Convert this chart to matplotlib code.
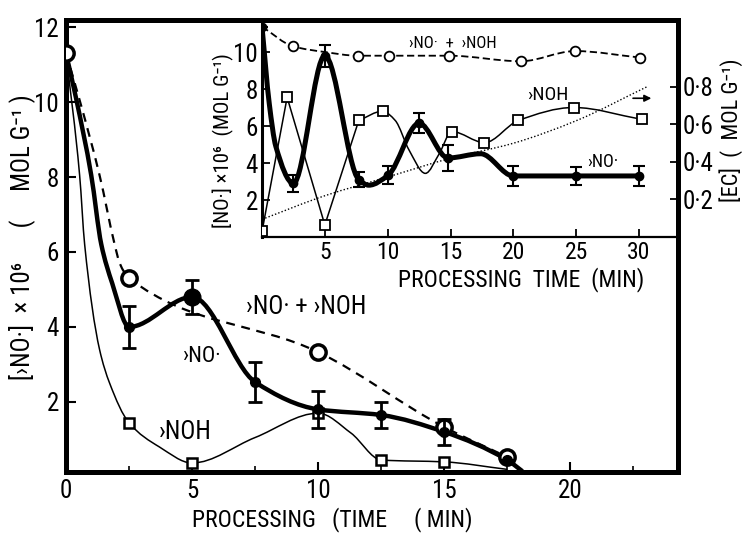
import numpy as np
import matplotlib
matplotlib.use('Agg')
import matplotlib.pyplot as plt
from matplotlib.path import Path
from matplotlib.patches import PathPatch

plt.rcParams['font.family'] = ['Roboto Condensed', 'DejaVu Sans']

# ---- main plot data (time in min, conc x1e6 mol/g) ----
# >NO. + >NOH (open circles, dashed)
sum_t = [0, 0.52, 1.33, 1.93, 2.13, 2.5, 10, 15, 17.5]
sum_v = [11.3, 10.1, 8.05, 6.2, 5.7, 5.3, 3.33, 1.33, 0.53]
sum_mark = [0, 5, 6, 7, 8]

# >NO. (filled circles, thick, error bars)
no_t = [0, 0.4, 1.0, 1.4, 1.83, 2.5, 5, 7.5, 10, 12.5, 15, 17.5, 18.1]
no_v = [11.3, 10.1, 8.05, 6.2, 5.17, 4.0, 4.8, 2.53, 1.8, 1.65, 1.2, 0.45, 0.15]
no_mark = [5, 6, 7, 8, 9, 10, 11]
no_err = [0.55, 0.45, 0.53, 0.5, 0.35, 0.35, 0]

# >NOH (open squares, thin)
noh_t = [0, 0.54, 0.74, 1.33, 1.73, 2.5, 3.7, 5, 7.5, 10, 11.3, 12.5, 15, 17.5]
noh_v = [11.3, 8.05, 6.2, 3.4, 2.5, 1.44, 0.8, 0.37, 1.05, 1.7, 1.17, 0.45, 0.4, 0.2]
noh_mark = [5, 7, 9, 11, 12]

# ---- inset data ----
i_sum_t = [0, 2.5, 5.0, 7.6, 10.1, 14.9, 20.6, 24.9, 30.1]
i_sum_v = [11.37, 10.3, 10.0, 9.8, 9.8, 9.8, 9.5, 10.05, 9.7]
i_sum_mark = [1, 3, 4, 5, 6, 7, 8]

i_no_t = [0, 0.58, 1.1, 2.5, 5.0, 7.7, 8.5, 10.05, 12.5, 14.8, 17.4, 20.0, 25.0, 30.0]
i_no_v = [11.37, 7.2, 4.9, 2.9, 9.8, 3.1, 2.8, 3.35, 6.15, 4.27, 4.5, 3.3, 3.3, 3.3]
i_no_mark = [0, 3, 4, 5, 7, 8, 9, 11, 12, 13]
i_no_err = [0, 0.45, 0.6, 0.4, 0.5, 0.55, 0.7, 0.55, 0.5, 0.55]

# NOH: straight segments first, then smooth
i_noh_t1 = [0, 2.0, 5.0, 7.7]
i_noh_v1 = [0.3, 7.55, 0.65, 6.3]
i_noh_t2 = [7.7, 9.6, 10.6, 11.7, 13.0, 14.1, 15.1, 17.7, 20.4, 24.8, 30.2]
i_noh_v2 = [6.3, 6.8, 6.3, 4.7, 3.44, 4.5, 5.7, 5.1, 6.3, 7.0, 6.36]
i_noh_mark2 = [1, 6, 7, 8, 9, 10]

# [EC] on right axis
ec_t = [0, 5, 10, 15, 20, 25, 30.6]
ec_v = [0.094, 0.22, 0.32, 0.42, 0.5, 0.62, 0.8]


def curve(ax, t, v, **kw):
    # smooth monotone cubic drawn as a bezier path
    t = np.asarray(t, float)
    v = np.asarray(v, float)
    h = np.diff(t)
    d = np.diff(v) / h
    m = np.zeros_like(t)
    m[0] = d[0]
    m[-1] = d[-1]
    for i in range(1, len(t) - 1):
        if d[i-1] * d[i] > 0:
            w1 = 2*h[i] + h[i-1]
            w2 = h[i] + 2*h[i-1]
            m[i] = (w1 + w2) / (w1/d[i-1] + w2/d[i])
    verts = [(t[0], v[0])]
    codes = [Path.MOVETO]
    for i in range(len(t) - 1):
        verts += [(t[i] + h[i]/3, v[i] + m[i]*h[i]/3),
                  (t[i+1] - h[i]/3, v[i+1] - m[i+1]*h[i]/3),
                  (t[i+1], v[i+1])]
        codes += [Path.CURVE4] * 3
    ax.add_patch(PathPatch(Path(verts, codes), fill=False, **kw))


def pick(a, idx):
    return [a[i] for i in idx]


W, H = 742, 534
fig = plt.figure(figsize=(W/100, H/100), dpi=100)


def ftext(x, y, s, **kw):
    fig.text(x/W, 1 - y/H, s, ha='center', va='center', **kw)


ax = fig.add_axes([66/W, 1 - 472/H, (678-66)/W, (472-20)/H])
ax.set_xlim(0, 24.27)
ax.set_ylim(0.13, 12.19)
for s in ax.spines.values():
    s.set_linewidth(3.6)
ax.set_xticks([0, 5, 10, 15, 20])
ax.set_xticks(np.arange(0, 24, 2.5), minor=True)
ax.set_yticks([2, 4, 6, 8, 10, 12])
ax.tick_params(direction='in', length=7, width=1.5, labelsize=18, pad=5)
ax.tick_params(which='minor', direction='in', length=4, width=1.2)

curve(ax, sum_t, sum_v, lw=1.6, ls=(0, (4, 3)), color='k')
curve(ax, noh_t, noh_v, lw=1.1, color='k')
curve(ax, no_t, no_v, lw=3.2, color='k', zorder=3)
ax.plot(pick(sum_t, sum_mark), pick(sum_v, sum_mark), ls='none', marker='o',
        ms=11, mfc='white', mec='k', mew=2.5, zorder=4)
ax.plot(pick(noh_t, noh_mark), pick(noh_v, noh_mark), ls='none', marker='s',
        ms=7, mfc='white', mec='k', mew=1.8, zorder=4)
ax.errorbar(pick(no_t, no_mark), pick(no_v, no_mark), yerr=no_err, fmt='none',
            ecolor='k', elinewidth=2, capsize=5, capthick=2, zorder=5)
ax.plot(pick(no_t, no_mark), pick(no_v, no_mark), ls='none', marker='o',
        ms=7, color='k', zorder=6)
ax.plot([no_t[6]], [no_v[6]], ls='none', marker='o', ms=12, color='k', zorder=6)

ftext(306, 307, '›NO· + ›NOH', fontsize=18)
ftext(202, 356, '›NO·', fontsize=16)
ftext(185, 432, '›NOH', fontsize=18)
ftext(332, 520, 'PROCESSING   (TIME     ( MIN)', fontsize=17)
ftext(22, 237, '[›NO·]  × 10⁶      (     MOL G⁻¹ )', fontsize=18, rotation=90)

# ---- inset ----
ins = fig.add_axes([262/W, 1 - 237/H, (678-262)/W, (237-20)/H])
ins.set_xlim(0, 33.1)
ins.set_ylim(0, 11.73)
ins.spines['left'].set_linewidth(2.2)
ins.spines['bottom'].set_linewidth(1.6)
ins.spines['top'].set_linewidth(3.6)
ins.spines['right'].set_linewidth(3.6)
ins.set_xticks([5, 10, 15, 20, 25, 30])
ins.set_yticks([2, 4, 6, 8, 10])
ins.tick_params(direction='in', length=6, width=1.3, labelsize=18, pad=3)
ins.tick_params(axis='x', labelsize=17, pad=3)
ins2 = ins.twinx()
for s in ins2.spines.values():
    s.set_visible(False)
ins2.set_ylim(0, 1.157)
ins2.set_yticks([0.2, 0.4, 0.6, 0.8])
ins2.set_yticklabels(['0·2', '0·4', '0·6', '0·8'])
ins2.tick_params(direction='in', length=6, width=1.3, labelsize=18, pad=3)

curve(ins2, ec_t, ec_v, lw=1.0, ls=(0, (1, 1.5)), color='k')
curve(ins, i_sum_t, i_sum_v, lw=1.3, ls=(0, (4, 2)), color='k')
ins.plot(i_noh_t1, i_noh_v1, lw=1.1, color='k')
curve(ins, i_noh_t2, i_noh_v2, lw=1.1, color='k')
curve(ins, i_no_t, i_no_v, lw=3.6, color='k', zorder=3)
ins.plot(pick(i_sum_t, i_sum_mark), pick(i_sum_v, i_sum_mark), ls='none',
         marker='o', ms=7, mfc='white', mec='k', mew=1.3, zorder=4)
ins.plot(i_noh_t1, i_noh_v1, ls='none', marker='s', ms=7, mfc='white',
         mec='k', mew=1.3, zorder=4)
ins.plot(pick(i_noh_t2, i_noh_mark2), pick(i_noh_v2, i_noh_mark2), ls='none',
         marker='s', ms=7, mfc='white', mec='k', mew=1.3, zorder=4)
ins.errorbar(pick(i_no_t, i_no_mark), pick(i_no_v, i_no_mark), yerr=i_no_err,
             fmt='none', ecolor='k', elinewidth=1.5, capsize=4, capthick=1.5,
             zorder=5)
ins.plot(pick(i_no_t, i_no_mark), pick(i_no_v, i_no_mark), ls='none',
         marker='o', ms=6, color='k', zorder=6)
ins.annotate('', xy=(31.2, 7.5), xytext=(29.3, 7.5),
             arrowprops=dict(arrowstyle='-|>', lw=1.2, color='k',
                             mutation_scale=10))

ftext(453, 43, '›NO·  +  ›NOH', fontsize=12)
ftext(548, 95, '›NOH', fontsize=14)
ftext(603, 162, '›NO·', fontsize=13)
ftext(521, 280, 'PROCESSING  TIME  (MIN)', fontsize=17)
ftext(223, 141, '[NO·] ×10⁶  (MOL G⁻¹)', fontsize=15, rotation=90)
ftext(731, 130, '[EC]  (  MOL G⁻¹)', fontsize=16, rotation=90)

fig.savefig('out.png', dpi=100)
